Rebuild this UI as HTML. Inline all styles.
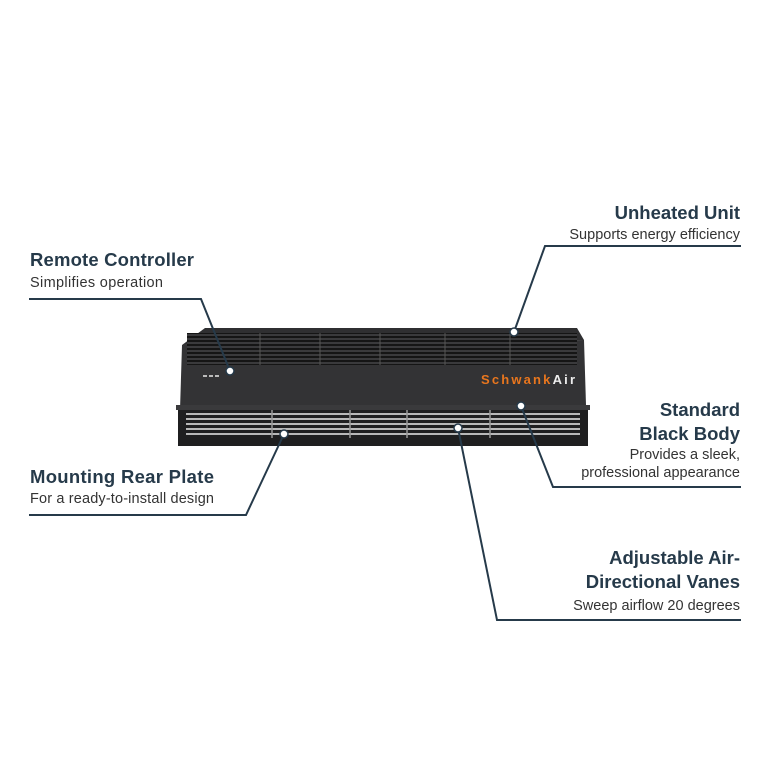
<!DOCTYPE html>
<html><head><style>
body{margin:0;width:770px;height:770px;background:#fff;overflow:hidden;font-family:"Liberation Sans",sans-serif}
</style></head><body>
<svg width="770" height="770" viewBox="0 0 770 770" xmlns="http://www.w3.org/2000/svg" font-family="Liberation Sans, sans-serif">
<defs>
<pattern id="g" width="4" height="4" patternUnits="userSpaceOnUse"><rect width="4" height="4" fill="#3a3a3c"/><rect y="0" width="4" height="2" fill="#151515"/></pattern>
</defs>
<!-- device -->
<polygon points="205,328 577,328 584,340 182,345" fill="#2f2f31"/>
<polygon points="182,345 584,340 586,405 180,410" fill="#333335"/>
<rect x="187" y="333" width="390" height="32" fill="url(#g)"/>
<g stroke="#555" stroke-width="1"><line x1="260" y1="333" x2="260" y2="365"/><line x1="320" y1="333" x2="320" y2="365"/><line x1="380" y1="333" x2="380" y2="365"/><line x1="445" y1="333" x2="445" y2="365"/><line x1="510" y1="333" x2="510" y2="365"/></g>
<rect x="178" y="408" width="410" height="38" fill="#1f1f20"/>
<g stroke="#b8b8b8" stroke-width="2">
<line x1="186" y1="414" x2="580" y2="414"/><line x1="186" y1="419" x2="580" y2="419"/>
<line x1="186" y1="424" x2="580" y2="424"/><line x1="186" y1="429" x2="580" y2="429"/>
<line x1="186" y1="434" x2="580" y2="434"/>
</g>
<g stroke="#999" stroke-width="1.5"><line x1="272" y1="410" x2="272" y2="438"/><line x1="350" y1="410" x2="350" y2="438"/><line x1="407" y1="410" x2="407" y2="438"/><line x1="490" y1="410" x2="490" y2="438"/></g>
<rect x="176" y="405" width="414" height="5" fill="#3a3a3c"/>
<text x="481" y="384" font-size="13" font-weight="bold" fill="#e8761e" textLength="94">Schwank<tspan fill="#eee">Air</tspan></text>
<g fill="#bbb"><rect x="203" y="375" width="4" height="2"/><rect x="209" y="375" width="4" height="2"/><rect x="215" y="375" width="4" height="2"/></g>
<!-- lines -->
<g stroke="#263a4a" stroke-width="2" fill="none">
<polyline points="29,299 201,299 230,371"/>
<polyline points="741,246 545,246 514,332"/>
<polyline points="741,487 553,487 521,406"/>
<polyline points="741,620 497,620 458,428"/>
<polyline points="29,515 246,515 284,434"/>
</g>
<g fill="#fff" stroke="#263a4a" stroke-width="1.5">
<circle cx="230" cy="371" r="4"/><circle cx="514" cy="332" r="4"/><circle cx="521" cy="406" r="4"/><circle cx="458" cy="428" r="4"/><circle cx="284" cy="434" r="4"/>
</g>
<!-- text -->
<g fill="#263a4a" font-weight="bold" font-size="18.5">
<text x="30" y="266" textLength="164">Remote Controller</text>
<text x="740" y="219" text-anchor="end">Unheated Unit</text>
<text x="740" y="416" text-anchor="end">Standard</text>
<text x="740" y="440" text-anchor="end">Black Body</text>
<text x="30" y="483" textLength="184">Mounting Rear Plate</text>
<text x="740" y="564" text-anchor="end">Adjustable Air-</text>
<text x="740" y="588" text-anchor="end">Directional Vanes</text>
</g>
<g fill="#333" font-size="14.5">
<text x="30" y="287" textLength="133">Simplifies operation</text>
<text x="740" y="239" text-anchor="end">Supports energy efficiency</text>
<text x="740" y="459" text-anchor="end">Provides a sleek,</text>
<text x="740" y="477" text-anchor="end">professional appearance</text>
<text x="30" y="503" textLength="184">For a ready-to-install design</text>
<text x="740" y="610" text-anchor="end">Sweep airflow 20 degrees</text>
</g>
</svg>
</body></html>
